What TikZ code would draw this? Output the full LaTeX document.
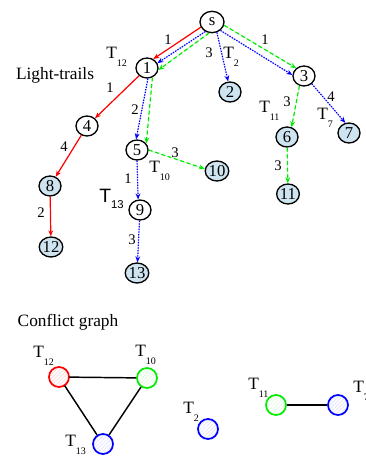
\documentclass[tikz,border=0pt]{standalone}
\usepackage{fontspec}
\setmainfont{Liberation Serif}
\newfontfamily\arialfont{Liberation Sans}
\usetikzlibrary{arrows.meta,shapes.geometric,patterns.meta}

\definecolor{leafblue}{RGB}{206,228,240}
\definecolor{trailred}{RGB}{255,0,0}
\definecolor{trailblue}{RGB}{0,0,255}
\definecolor{trailgreen}{RGB}{0,235,0}

% T with a subscript set low, below the baseline
\newcommand\tlab[1]{\fontsize{13}{14}\selectfont T\raisebox{-6pt}{\fontsize{7.5}{8}\selectfont #1}}

\tikzset{
  vtx/.style={ellipse, draw=black, line width=1pt, inner sep=0pt,
    minimum width=16.5pt, minimum height=15pt, font=\fontsize{12.5}{13}\selectfont},
  leaf/.style={vtx, fill=leafblue},
  tip/.style={-{Stealth[length=4.5pt,width=3.6pt]}},
  redtrail/.style={tip, draw=trailred, fill=trailred, line width=0.9pt},
  bluetrail/.style={tip, draw=trailblue, fill=trailblue, line width=0.9pt, dash pattern=on 1pt off 1pt},
  greentrail/.style={tip, draw=trailgreen, fill=trailgreen, line width=0.9pt, dash pattern=on 3pt off 2pt},
  wlab/.style={font=\fontsize{11}{12}\selectfont, inner sep=0pt},
  tname/.style={anchor=base west, inner sep=0pt},
  heading/.style={font=\fontsize{13}{14}\selectfont, inner sep=0pt},
  cvtx/.style={circle, line width=1.3pt, inner sep=0pt, minimum size=15pt,
    pattern={Lines[angle=45,distance=2pt,line width=0.5pt]}},
  cedge/.style={draw=black, line width=1.1pt},
}

\begin{document}
\begin{tikzpicture}[x=0.75pt,y=-0.75pt]
\useasboundingbox (0,0) rectangle (366,456);

% ---------- light-trail tree ----------
\node[heading] (lt) at (55,75) {Light-trails};

\node[vtx, minimum width=18pt, minimum height=16pt] (s) at (212,22) {s};
\node[vtx]  (n1)  at (147,68)  {1};
\node[leaf] (n2)  at (230,92)  {2};
\node[vtx]  (n3)  at (304,76)  {3};
\node[vtx]  (n4)  at (87,126)  {4};
\node[vtx]  (n5)  at (137,150) {5};
\node[leaf] (n6)  at (287,137) {6};
\node[leaf] (n7)  at (349,133) {7};
\node[leaf] (n8)  at (50,186)  {8};
\node[vtx]  (n9)  at (140,210) {9};
\node[leaf] (n10) at (217,171) {10};
\node[leaf] (n11) at (288,194) {11};
\node[leaf] (n12) at (51,247)  {12};
\node[leaf] (n13) at (137,273) {13};

% red trail
\draw[redtrail] (s.205) -- (n1.55);
\draw[redtrail] (n1) -- (n4);
\draw[redtrail] (n4) -- (n8);
\draw[redtrail] (n8) -- (n12);

% blue trails
\draw[bluetrail] (s.235) -- (n1.25);
\draw[bluetrail] (n1.275) -- (n5.95);
\draw[bluetrail] (n5.270) -- (n9.100);
\draw[bluetrail] (n9) -- (n13);
\draw[bluetrail] (s.295) -- (n2.100);
\draw[bluetrail] (s.315) -- (n3.175);
\draw[bluetrail] (n3.315) -- (n7.110);

% green trails
\draw[greentrail] (s.255) -- (n1.350);
\draw[greentrail] (n1.300) -- (n5.35);
\draw[greentrail] (n5.0) -- (n10.170);
\draw[greentrail] (s.345) -- (n3.135);
\draw[greentrail] (n3.245) -- (n6.65);
\draw[greentrail] (n6) -- (n11);

% link weights
\node[wlab] (w1)  at (168,40)  {1};
\node[wlab] (w2)  at (209,53)  {3};
\node[wlab] (w3)  at (265,40)  {1};
\node[wlab] (w4)  at (110,88)  {1};
\node[wlab] (w5)  at (135,110) {2};
\node[wlab] (w6)  at (64,147)  {4};
\node[wlab] (w7)  at (175,153) {3};
\node[wlab] (w8)  at (128,179) {1};
\node[wlab] (w9)  at (41,213)  {2};
\node[wlab] (w10) at (132,240) {3};
\node[wlab] (w11) at (287,102) {3};
\node[wlab] (w12) at (331,97)  {4};
\node[wlab] (w13) at (278,166) {3};

% trail names
\node[tname] (t12) at (106,59)  {\tlab{12}};
\node[tname] (t2)  at (223,58.5) {\tlab{2}};
\node[tname] (t11) at (259,113) {\tlab{11}};
\node[tname] (t7)  at (317,119) {\tlab{7}};
\node[tname] (t10) at (149,172) {\tlab{10}};
\node[tname] (t13) at (99,202)
  {\arialfont\fontsize{14.5}{15}\selectfont T\raisebox{-4.5pt}{\fontsize{8.5}{9}\selectfont 13}};

% ---------- conflict graph ----------
\node[heading] (cg) at (68,322) {Conflict graph};

\node[cvtx, draw=trailred,   pattern color=trailred!14]   (c12) at (59,377)  {};
\node[cvtx, draw=trailgreen, pattern color=trailgreen!14] (c10) at (147,378) {};
\node[cvtx, draw=trailblue,  pattern color=trailblue!12]  (c13) at (103,444) {};
\node[cvtx, draw=trailblue,  pattern color=trailblue!12]  (c2)  at (208,429) {};
\node[cvtx, draw=trailgreen, pattern color=trailgreen!14] (c11) at (276,405) {};
\node[cvtx, draw=trailblue,  pattern color=trailblue!12]  (c7)  at (338,405) {};

\draw[cedge] (c12) -- (c10);
\draw[cedge] (c12) -- (c13);
\draw[cedge] (c10) -- (c13);
\draw[cedge] (c11) -- (c7);

\node[tname] (l12) at (33,357)  {\tlab{12}};
\node[tname] (l10) at (135,356) {\tlab{10}};
\node[tname] (l13) at (65,446)  {\tlab{13}};
\node[tname] (l2)  at (183,413) {\tlab{2}};
\node[tname] (l11) at (248,389) {\tlab{11}};
\node[tname] (l7)  at (353,392) {\tlab{7}};
\end{tikzpicture}
\end{document}
